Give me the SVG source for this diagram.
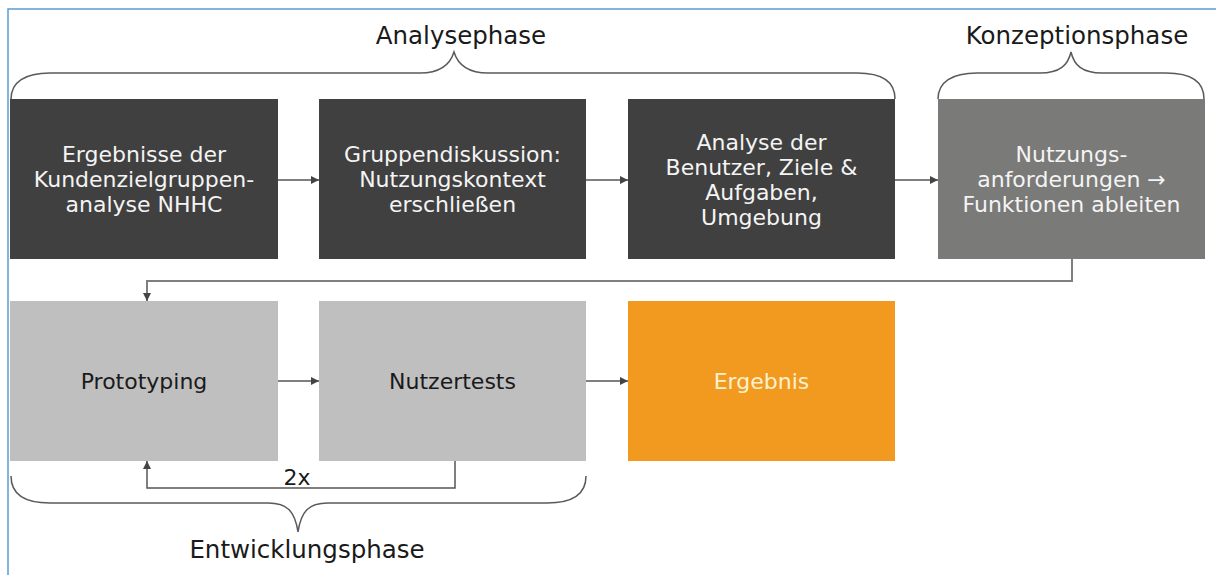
<svg xmlns="http://www.w3.org/2000/svg" width="1216" height="575" viewBox="0 0 1216 575">
  <style>
    .t { font-family: "DejaVu Sans", Verdana, sans-serif; font-size: 22px; text-anchor: middle; }
    .w { fill: #f4f4f4; }
    .k { fill: #1a1a1a; }
    .h { font-family: "DejaVu Sans", Verdana, sans-serif; font-size: 24.5px; text-anchor: middle; fill: #1a1a1a; }
    .dark { fill: #404040; }
    .mid { fill: #7a7a79; }
    .light { fill: #bfbfbf; }
    .orange { fill: #f29a20; }
    .brace { fill: none; stroke: #5a5a5a; stroke-width: 1.5; }
    .c { fill: none; stroke: #555555; stroke-width: 1.5; }
    .fb { fill: none; stroke: #7f7f7f; stroke-width: 2; }
  </style>
  <defs>
    <marker id="ah" viewBox="0 0 8 8" refX="8" refY="4" markerWidth="8" markerHeight="8" markerUnits="userSpaceOnUse" orient="auto">
      <path d="M0,0 L8,4 L0,8 Z" fill="#444444"/>
    </marker>
  </defs>
  <rect width="1216" height="575" fill="#ffffff"/>
  <path d="M8,575 V9 H1216" fill="none" stroke="#5b9bd5" stroke-width="1.5"/>

  <g id="braces">
    <path class="brace" d="M11,99 C11,82 25,73 50,73 L420,73 C440,73 450,65 454,52 C458,65 468,73 488,73 L857,73 C882,73 895,82 895,99"/>
    <path class="brace" d="M938,99 C938,82 952,73 977,73 L1040,73 C1060,73 1068,65 1071,52 C1074,65 1082,73 1102,73 L1166,73 C1191,73 1204,82 1204,99"/>
    <path class="brace" d="M11,476 C11,494 25,503 50,503 L268,503 C288,503 295,512 298,532 C301,512 308,503 328,503 L547,503 C572,503 586,494 586,476"/>
  </g>
  <g id="phase-labels">
    <text class="h" x="461" y="44">Analysephase</text>
    <text class="h" x="1077" y="44">Konzeptionsphase</text>
    <text class="h" x="307" y="558">Entwicklungsphase</text>
  </g>

  <g id="connectors">
    <line class="c" x1="278" y1="180" x2="319" y2="180" marker-end="url(#ah)"/>
    <line class="c" x1="586" y1="180" x2="628" y2="180" marker-end="url(#ah)"/>
    <line class="c" x1="895" y1="180" x2="938" y2="180" marker-end="url(#ah)"/>
    <path class="fb" d="M1072,259 V281 H147 V301" marker-end="url(#ah)"/>
    <line class="c" x1="278" y1="381" x2="319" y2="381" marker-end="url(#ah)"/>
    <line class="c" x1="586" y1="381" x2="628" y2="381" marker-end="url(#ah)"/>
    <path class="c" d="M455,461 V488 H147 V461" marker-end="url(#ah)"/>
    <text class="t k" x="297" y="485">2x</text>
  </g>

  <g id="n1">
    <rect class="dark" x="10" y="99" width="268" height="160"/>
    <text class="t w" x="144" y="162">Ergebnisse der</text>
    <text class="t w" x="144" y="187">Kundenzielgruppen-</text>
    <text class="t w" x="144" y="212">analyse NHHC</text>
  </g>
  <g id="n2">
    <rect class="dark" x="319" y="99" width="267" height="160"/>
    <text class="t w" x="452.5" y="162">Gruppendiskussion:</text>
    <text class="t w" x="452.5" y="187">Nutzungskontext</text>
    <text class="t w" x="452.5" y="212">erschließen</text>
  </g>
  <g id="n3">
    <rect class="dark" x="628" y="99" width="267" height="160"/>
    <text class="t w" x="761.5" y="149.5">Analyse der</text>
    <text class="t w" x="761.5" y="174.5">Benutzer, Ziele &amp;</text>
    <text class="t w" x="761.5" y="199.5">Aufgaben,</text>
    <text class="t w" x="761.5" y="224.5">Umgebung</text>
  </g>
  <g id="n4">
    <rect class="mid" x="938" y="99" width="267" height="160"/>
    <text class="t w" x="1071.5" y="162">Nutzungs-</text>
    <text class="t w" x="1071.5" y="187">anforderungen →</text>
    <text class="t w" x="1071.5" y="212">Funktionen ableiten</text>
  </g>
  <g id="n5">
    <rect class="light" x="10" y="301" width="268" height="160"/>
    <text class="t k" x="144" y="389">Prototyping</text>
  </g>
  <g id="n6">
    <rect class="light" x="319" y="301" width="267" height="160"/>
    <text class="t k" x="452.5" y="389">Nutzertests</text>
  </g>
  <g id="n7">
    <rect class="orange" x="628" y="301" width="267" height="160"/>
    <text class="t" x="761.5" y="389" fill="#fcf1cf">Ergebnis</text>
  </g>
</svg>
